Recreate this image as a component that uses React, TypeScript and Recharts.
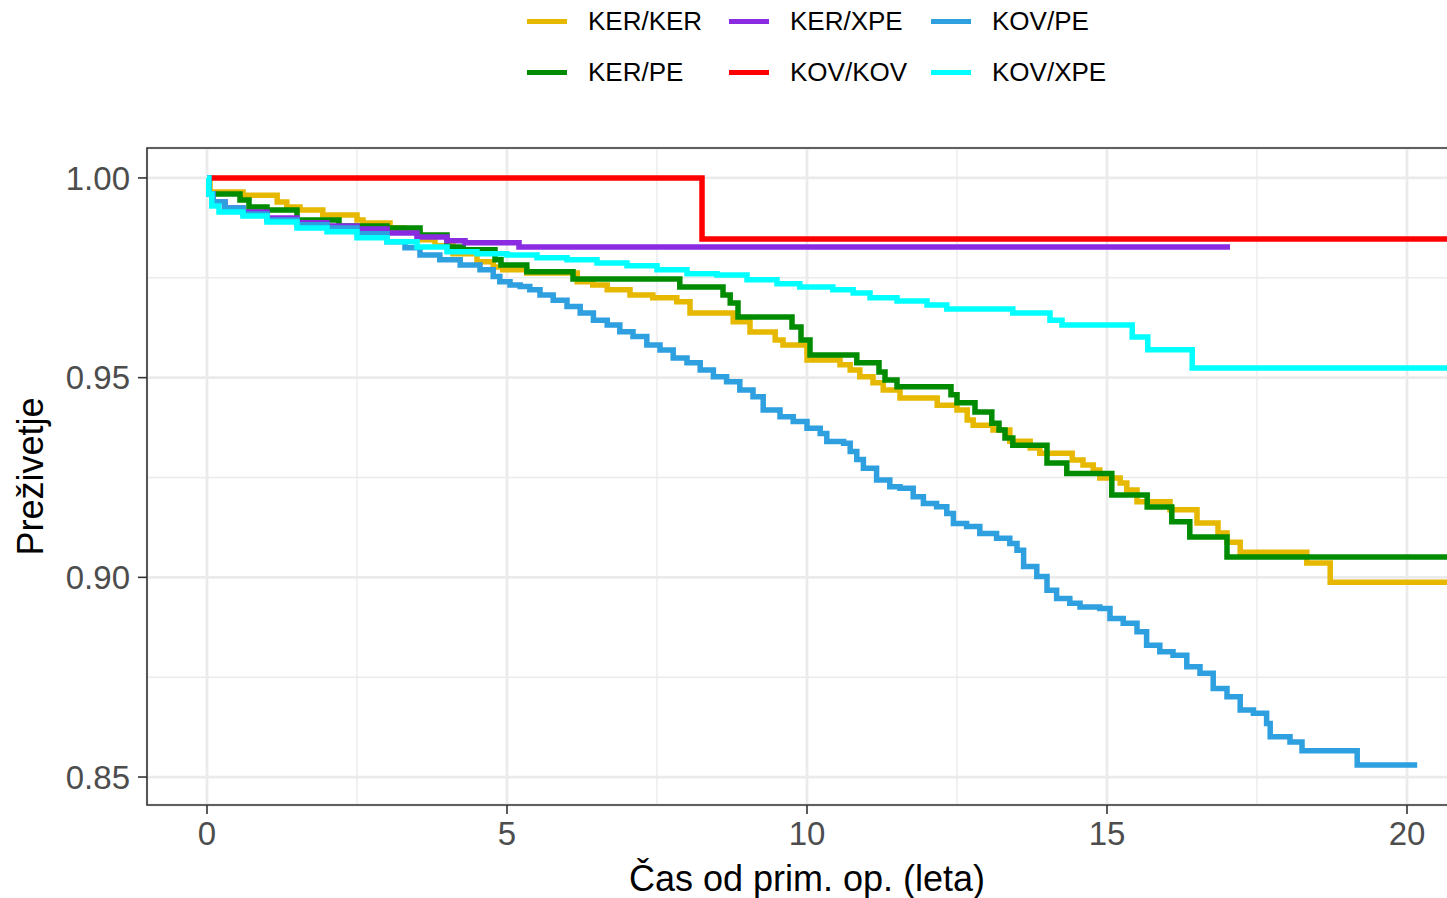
import { LineChart, Line, XAxis, YAxis, CartesianGrid, Label, ReferenceArea } from 'recharts';

// Kaplan-Meier curves: [time in years, survival] at each step
const kerKer: [number, number][] = [
    [0, 1], [0.05, 0.9965], [0.6, 0.9957], [1.17, 0.994], [1.33, 0.9927], [1.55, 0.992], [1.93, 0.9907],
    [2.5, 0.9895], [2.6, 0.9887], [3.05, 0.9875], [3.27, 0.9865], [3.55, 0.9845], [3.8, 0.983], [4.1, 0.981],
    [4.5, 0.979], [4.77, 0.9777], [4.93, 0.977], [5.33, 0.9762], [6.17, 0.974], [6.43, 0.9732], [6.67, 0.972],
    [7.05, 0.9707], [7.43, 0.97], [7.83, 0.969], [8.05, 0.9662], [8.77, 0.964], [9.05, 0.9614], [9.47, 0.9594],
    [9.6, 0.9582], [10.0, 0.9544], [10.55, 0.9532], [10.72, 0.9519], [10.88, 0.9502], [11.1, 0.9487],
    [11.27, 0.9469], [11.55, 0.9449], [12.17, 0.9431], [12.5, 0.9419], [12.67, 0.9394], [12.77, 0.9381],
    [13.1, 0.9369], [13.38, 0.9341], [13.72, 0.9324], [13.88, 0.9311], [14.42, 0.9294], [14.6, 0.9281],
    [14.77, 0.9269], [14.88, 0.9249], [15.22, 0.9236], [15.33, 0.9219], [15.5, 0.9189], [16.05, 0.9169],
    [16.5, 0.9136], [16.85, 0.9111], [17.0, 0.9088], [17.22, 0.9063], [18.33, 0.9036], [18.72, 0.8988], [21, 0.8988],
];

const kerPe: [number, number][] = [
    [0, 1], [0.03, 0.996], [0.55, 0.9945], [0.7, 0.9927], [1.0, 0.992], [1.5, 0.9895], [2.2, 0.988], [3.0, 0.9875],
    [3.55, 0.9857], [4.0, 0.9827], [4.27, 0.982], [4.8, 0.9795], [4.9, 0.9782], [5.33, 0.9765], [6.1, 0.9747],
    [7.88, 0.9727], [8.6, 0.9707], [8.72, 0.9687], [8.85, 0.9652], [9.75, 0.9627], [9.9, 0.9594], [10.05, 0.9557],
    [10.83, 0.9537], [11.2, 0.9514], [11.3, 0.9494], [11.5, 0.9477], [12.4, 0.9457], [12.5, 0.9437],
    [12.8, 0.9414], [13.08, 0.9386], [13.2, 0.9369], [13.3, 0.9349], [13.43, 0.9331], [14.0, 0.9286],
    [14.33, 0.926], [15.08, 0.9206], [15.67, 0.9176], [16.08, 0.9139], [16.38, 0.9101], [17.0, 0.9051], [21, 0.9051],
];

const kerXpe: [number, number][] = [
    [0, 1], [0.03, 0.996], [0.1, 0.994], [0.3, 0.9925], [0.6, 0.9915], [1.0, 0.99], [1.5, 0.9888], [2.0, 0.988],
    [2.5, 0.9872], [3.0, 0.9862], [3.5, 0.9852], [4.0, 0.9843], [4.3, 0.9838], [5.2, 0.9827], [17.05, 0.9827],
];

const kovKov: [number, number][] = [
    [0, 1], [8.25, 0.9847], [21, 0.9847],
];

const kovPe: [number, number][] = [
    [0, 1], [0.03, 0.996], [0.1, 0.994], [0.3, 0.9925], [0.6, 0.991], [1.0, 0.9895], [1.5, 0.9883], [2.0, 0.9875],
    [2.5, 0.986], [3.0, 0.984], [3.3, 0.9825], [3.55, 0.9807], [3.88, 0.9795], [4.22, 0.9782], [4.55, 0.977],
    [4.77, 0.9753], [4.88, 0.974], [5.05, 0.9732], [5.22, 0.9728], [5.38, 0.972], [5.55, 0.9707], [5.77, 0.9694],
    [6.0, 0.9678], [6.22, 0.9662], [6.44, 0.9644], [6.67, 0.9632], [6.88, 0.9615], [7.1, 0.9603], [7.33, 0.9582],
    [7.55, 0.9569], [7.77, 0.9549], [8.0, 0.9537], [8.22, 0.9519], [8.44, 0.9502], [8.66, 0.949], [8.88, 0.9469],
    [9.1, 0.9452], [9.27, 0.9419], [9.55, 0.9402], [9.77, 0.939], [10.0, 0.9373], [10.22, 0.936], [10.33, 0.934],
    [10.61, 0.9336], [10.72, 0.9315], [10.83, 0.9295], [10.94, 0.9273], [11.16, 0.9244], [11.38, 0.9227],
    [11.55, 0.9223], [11.77, 0.9202], [11.94, 0.9185], [12.16, 0.9177], [12.33, 0.916], [12.44, 0.9135],
    [12.66, 0.9127], [12.88, 0.911], [13.16, 0.9098], [13.38, 0.9085], [13.5, 0.9068], [13.61, 0.9027],
    [13.83, 0.9002], [14.0, 0.8968], [14.16, 0.8947], [14.38, 0.8935], [14.55, 0.8926], [14.88, 0.8922],
    [15.05, 0.8897], [15.27, 0.8885], [15.5, 0.8864], [15.66, 0.883], [15.88, 0.8814], [16.1, 0.8805],
    [16.33, 0.8776], [16.55, 0.876], [16.77, 0.8722], [17.0, 0.8701], [17.22, 0.8668], [17.44, 0.866],
    [17.66, 0.8634], [17.72, 0.8601], [18.05, 0.8588], [18.25, 0.8566], [19.17, 0.853], [20.17, 0.853],
];

const kovXpe: [number, number][] = [
    [0, 1], [0.03, 0.996], [0.08, 0.993], [0.2, 0.9915], [0.6, 0.9905], [1.0, 0.989], [1.5, 0.9875], [2.0, 0.9865],
    [2.5, 0.985], [3.0, 0.984], [3.5, 0.9827], [4.0, 0.9815], [4.5, 0.981], [5.0, 0.9807], [5.5, 0.98],
    [6.0, 0.9795], [6.5, 0.9787], [7.0, 0.978], [7.5, 0.977], [8.0, 0.976], [8.5, 0.9757], [9.0, 0.9745],
    [9.5, 0.9735], [9.88, 0.9727], [10.43, 0.972], [10.77, 0.9712], [11.05, 0.97], [11.5, 0.9692], [12.0, 0.9682],
    [12.33, 0.9672], [13.43, 0.9662], [14.05, 0.9644], [14.25, 0.9632], [15.42, 0.9602], [15.68, 0.957],
    [16.42, 0.9524], [21, 0.9524],
];

const xTicks = [0, 5, 10, 15, 20];
const xMinor = [2.5, 7.5, 12.5, 17.5];
const yTicks = [0.85, 0.9, 0.95, 1.0];
const yMinor = [0.875, 0.925, 0.975];

const X_DOMAIN: [number, number] = [-1, 21];
const Y_DOMAIN: [number, number] = [0.843, 1.0075];

// draw order as in ggplot (factor levels)
const series = [
    { name: 'KER/KER', data: kerKer, color: '#E7B800' },
    { name: 'KER/PE', data: kerPe, color: '#008B00' },
    { name: 'KER/XPE', data: kerXpe, color: '#8A2BE2' },
    { name: 'KOV/KOV', data: kovKov, color: '#FF0000' },
    { name: 'KOV/PE', data: kovPe, color: '#2E9FDF' },
    { name: 'KOV/XPE', data: kovXpe, color: '#00FFFF' },
];

const FONT = '"Liberation Sans", Arial, sans-serif';

const LegendBox = () => {
    const colX = [527, 729, 931];
    const rowY = [21, 72];
    return (
        <>
            {series.map((s, i) => {
                const col = Math.floor(i / 2);
                const row = i % 2;
                return (
                    <div
                        key={s.name}
                        style={{
                            position: 'absolute',
                            left: colX[col],
                            top: rowY[row] - 15,
                            height: 30,
                            display: 'flex',
                            alignItems: 'center',
                            fontFamily: FONT,
                            fontSize: 26,
                            color: '#000',
                            whiteSpace: 'nowrap',
                        }}
                    >
                        <span style={{ display: 'inline-block', width: 40, height: 5, background: s.color, marginRight: 21 }} />
                        {s.name}
                    </div>
                );
            })}
        </>
    );
};

export default function App() {
    return (
        <div style={{ position: 'absolute', left: 0, top: 0, width: 1447, height: 898, overflow: 'hidden', background: '#fff' }}>
            <LegendBox />
            <LineChart width={1480} height={898} margin={{ top: 148, right: 13, left: 0, bottom: 0 }}>
                <CartesianGrid stroke="#EBEBEB" strokeWidth={1.4} verticalValues={xMinor} horizontalValues={yMinor} />
                <CartesianGrid stroke="#EBEBEB" strokeWidth={2.8} />
                <XAxis
                    dataKey="t"
                    type="number"
                    domain={X_DOMAIN}
                    ticks={xTicks}
                    allowDataOverflow
                    height={93}
                    axisLine={false}
                    tickLine={{ stroke: '#333', strokeWidth: 1.6 }}
                    tickSize={9}
                    tickMargin={8}
                    tick={{ fontSize: 33, fill: '#4D4D4D', fontFamily: FONT }}
                >
                    <Label
                        value="Čas od prim. op. (leta)"
                        position="insideBottom"
                        offset={7}
                        style={{ fontSize: 36, fill: '#000', fontFamily: FONT }}
                    />
                </XAxis>
                <YAxis
                    type="number"
                    domain={Y_DOMAIN}
                    ticks={yTicks}
                    allowDataOverflow
                    width={147}
                    axisLine={false}
                    tickLine={{ stroke: '#333', strokeWidth: 1.6 }}
                    tickSize={9}
                    tickMargin={8}
                    tickFormatter={(v: number) => v.toFixed(2)}
                    tick={{ fontSize: 33, fill: '#4D4D4D', fontFamily: FONT }}
                >
                    <Label
                        value="Preživetje"
                        angle={-90}
                        position="insideLeft"
                        offset={30}
                        style={{ fontSize: 36, fill: '#000', fontFamily: FONT, textAnchor: 'middle' }}
                    />
                </YAxis>
                {series.map((s) => (
                    <Line
                        key={s.name}
                        name={s.name}
                        data={s.data.map(([t, v]) => ({ t, s: v }))}
                        dataKey="s"
                        type="stepAfter"
                        stroke={s.color}
                        strokeWidth={5.5}
                        dot={false}
                        activeDot={false}
                        isAnimationActive={false}
                    />
                ))}
                <ReferenceArea
                    x1={X_DOMAIN[0]}
                    x2={X_DOMAIN[1]}
                    y1={Y_DOMAIN[0]}
                    y2={Y_DOMAIN[1]}
                    fill="none"
                    stroke="#333"
                    strokeWidth={1.6}
                />
            </LineChart>
        </div>
    )
}
